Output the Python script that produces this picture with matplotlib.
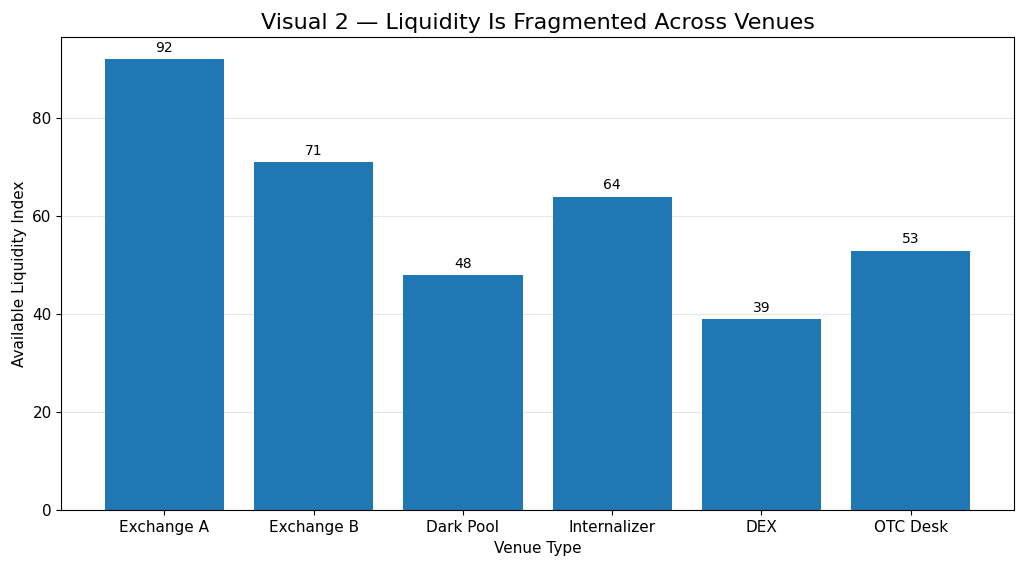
import matplotlib.pyplot as plt

venues = ["Exchange A", "Exchange B", "Dark Pool", "Internalizer", "DEX", "OTC Desk"]
liquidity = [92, 71, 48, 64, 39, 53]

fig, ax = plt.subplots(figsize=(10.24, 5.67), dpi=100)

bars = ax.bar(venues, liquidity, color="#1f77b4")
ax.bar_label(bars, padding=3, fontsize=10)

ax.set_title("Visual 2 — Liquidity Is Fragmented Across Venues", fontsize=16)
ax.set_xlabel("Venue Type", fontsize=11)
ax.set_ylabel("Available Liquidity Index", fontsize=11)
ax.tick_params(labelsize=11)
ax.grid(axis="y", alpha=0.3)
ax.set_axisbelow(True)

plt.subplots_adjust(left=0.06, right=0.99, top=0.935, bottom=0.1)
plt.savefig("out.png")
